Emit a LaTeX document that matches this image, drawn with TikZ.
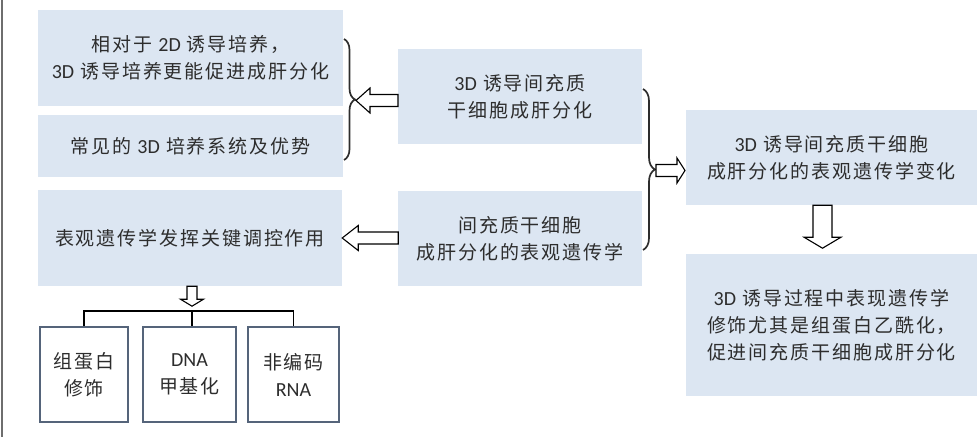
\documentclass[tikz,border=0pt]{standalone}
\usepackage{fontspec}
\setmainfont{Noto Sans CJK SC}[LetterSpace=10]
\newfontfamily\latfont{Carlito}
\newcommand\lt[1]{{\latfont\fontsize{20}{27}\selectfont #1}}
\usetikzlibrary{decorations.pathreplacing}
\definecolor{boxfill}{RGB}{220,230,242}
\definecolor{txt}{RGB}{45,45,45}
\definecolor{smallborder}{RGB}{85,100,122}
\definecolor{bracecol}{RGB}{45,45,45}
\definecolor{framecol}{RGB}{110,110,110}
\begin{document}
\begin{tikzpicture}[x=1pt,y=-1pt,
  box/.style={fill=boxfill, inner sep=0pt, align=center, text=txt, font=\fontsize{19}{27}\selectfont},
  sbox/.style={draw=smallborder, line width=1.7pt, fill=white, inner sep=0pt, align=center, text=txt, font=\fontsize{19}{27}\selectfont, minimum height=95pt},
  hollow/.style={draw=black, line width=1.1pt, fill=white, line join=miter},
  bracestyle/.style={draw=bracecol, line width=1.7pt, decorate, decoration={brace, amplitude=11pt}},
  tree/.style={draw=black, line width=1.5pt}
]
\useasboundingbox (0,0) rectangle (977,437);
\draw[framecol, line width=1.5pt] (2,0) -- (2,437);

% blue boxes
\node[box, minimum width=305pt, minimum height=96pt] (A) at (190.5,58) {相对于 \lt{2D} 诱导培养，\\\lt{3D} 诱导培养更能促进成肝分化};
\node[box, minimum width=305pt, minimum height=62pt] (B) at (190.5,146) {常见的 \lt{3D} 培养系统及优势};
\node[box, minimum width=304pt, minimum height=96pt] (C) at (190,238) {表观遗传学发挥关键调控作用};
\node[box, minimum width=244pt, minimum height=95pt] (D) at (520,96.5) {\lt{3D} 诱导间充质\\干细胞成肝分化};
\node[box, minimum width=244pt, minimum height=95pt] (E) at (520,238.5) {间充质干细胞\\成肝分化的表观遗传学};
\node[box, minimum width=291pt, minimum height=95pt] (F) at (831.5,157.5) {\lt{3D} 诱导间充质干细胞\\成肝分化的表观遗传学变化};
\node[box, minimum width=291pt, minimum height=142pt] (G) at (831.5,325) {\lt{3D} 诱导过程中表现遗传学\\修饰尤其是组蛋白乙酰化，\\促进间充质干细胞成肝分化};

% small boxes
\node[sbox, minimum width=88pt] (s1) at (84,374.5) {组蛋白\\修饰};
\node[sbox, minimum width=93pt] (s2) at (189.5,374.5) {\lt{DNA}\\甲基化};
\node[sbox, minimum width=91pt] (s3) at (293.5,374.5) {非编码\\\lt{RNA}};

% braces
\coordinate (b1top) at (344,39);
\coordinate (b1bot) at (344,160);
\draw[bracestyle] (b1top) -- (b1bot);
\coordinate (t1) at (356,100.5);
\coordinate (b2top) at (643,89);
\coordinate (b2bot) at (643,250);
\draw[bracestyle, decoration={amplitude=12pt}] (b2top) -- (b2bot);
\coordinate (t2) at (656,170.5);

% hollow arrows
\draw[hollow] (t1) -- ++(14,-12.5) -- ++(0,6.5) -- ++(28,0) -- ++(0,12) -- ++(-28,0) -- ++(0,6.5) -- cycle;
\draw[hollow] (C.east) -- ++(16,-12.5) -- ++(0,6.5) -- ++(40,0) -- ++(0,12) -- ++(-40,0) -- ++(0,6.5) -- cycle;
\draw[hollow] ([yshift=6pt]t2) -- ++(21,0) -- ++(0,-6.5) -- ++(8,12.5) -- ++(-8,12.5) -- ++(0,-6.5) -- ++(-21,0) -- cycle;
\coordinate (da) at ([xshift=-9pt]F.south);
\draw[hollow] ([xshift=-9.5pt]da) -- ++(0,32) -- ++(-9,0) -- ++(18.5,11) -- ++(18.5,-11) -- ++(-9,0) -- ++(0,-32) -- cycle;
\coordinate (sa) at ([xshift=2pt]C.south);
\draw[hollow] ([xshift=-5pt]sa) -- ++(0,13) -- ++(-6.5,0) -- ++(11.5,7) -- ++(11.5,-7) -- ++(-6.5,0) -- ++(0,-13) -- cycle;

% tree
\coordinate (bar) at (192,311);
\draw[tree] (s1.north) -- (s1.north |- bar) -- (s3.north |- bar) -- (s3.north);
\draw[tree] (bar) -- (bar |- s2.north);
\end{tikzpicture}
\end{document}
